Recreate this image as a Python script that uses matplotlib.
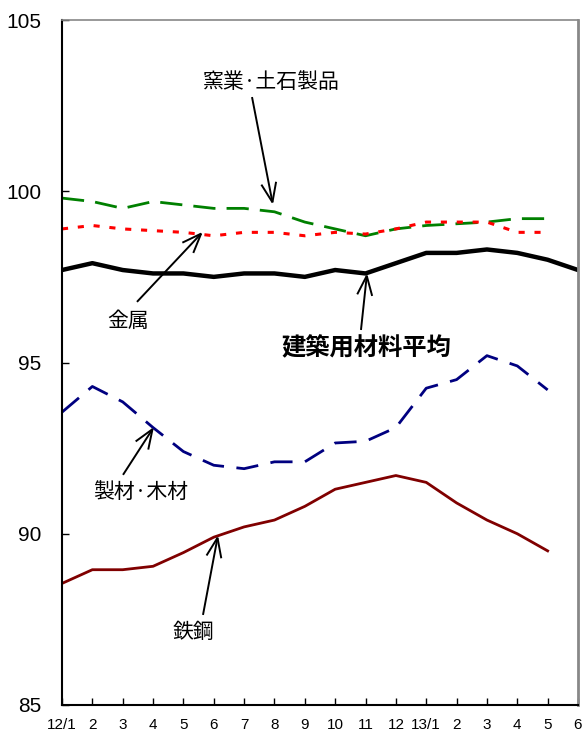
import matplotlib
matplotlib.use("Agg")
import matplotlib.pyplot as plt

# Month labels (2012/1 .. 2013/6)
months = ["12/1", "2", "3", "4", "5", "6", "7", "8", "9", "10", "11", "12",
          "13/1", "2", "3", "4", "5", "6"]

# Price index series
average = [97.7, 97.9, 97.7, 97.6, 97.6, 97.5, 97.6, 97.6, 97.5, 97.7, 97.6, 97.9,
           98.2, 98.2, 98.3, 98.2, 98.0, 97.7]
ceramics = [99.8, 99.7, 99.5, 99.7, 99.6, 99.5, 99.5, 99.4, 99.1, 98.9, 98.7, 98.9,
            99.0, 99.05, 99.1, 99.2, 99.2]
metals = [98.9, 99.0, 98.9, 98.85, 98.8, 98.7, 98.8, 98.8, 98.7, 98.8, 98.75, 98.9,
          99.1, 99.1, 99.1, 98.8, 98.8]
lumber = [93.55, 94.3, 93.85, 93.1, 92.4, 92.0, 91.9, 92.1, 92.1, 92.65, 92.7, 93.1,
          94.25, 94.5, 95.2, 94.9, 94.2]
steel = [88.55, 88.95, 88.95, 89.05, 89.45, 89.9, 90.2, 90.4, 90.8, 91.3, 91.5, 91.7,
         91.5, 90.9, 90.4, 90.0, 89.5]

yticks = [85, 90, 95, 100, 105]

jp = ["Noto Sans CJK JP", "DejaVu Sans"]
num_font = "Liberation Sans"

fig = plt.figure(figsize=(5.83, 7.33), dpi=100)
ax = fig.add_axes([62 / 583, 28 / 733, 516 / 583, 685 / 733])

x = list(range(len(months)))

ax.plot(x[:len(ceramics)], ceramics, color="#008000", lw=2.0, dashes=(8, 4))
ax.plot(x[:len(metals)], metals, color="#FF0000", lw=2.2, dashes=(2.0, 3.2))
ax.plot(x[:len(lumber)], lumber, color="#000080", lw=2.0, dashes=(8, 4.5))
ax.plot(x[:len(steel)], steel, color="#800000", lw=2.0)
ax.plot(x, average, color="black", lw=3.2, solid_joinstyle="round")

ax.set_xlim(0, len(months) - 1)
ax.set_ylim(85, 105)
ax.set_xticks(x)
ax.set_xticklabels(months, fontsize=11, fontfamily=num_font)
ax.set_yticks(yticks)
ax.set_yticklabels([str(v) for v in yticks], fontsize=15, fontfamily=num_font)
ax.tick_params(axis="x", direction="in", length=5, width=1, pad=9.5)
ax.tick_params(axis="y", direction="in", length=5, width=1, pad=15)

for side in ("left", "bottom"):
    ax.spines[side].set_color("black")
    ax.spines[side].set_linewidth(1.5)
ax.spines["top"].set_color("#888888")
ax.spines["top"].set_linewidth(1.2)
ax.spines["right"].set_color("#888888")
ax.spines["right"].set_linewidth(2.0)

arrow = dict(arrowstyle="->,head_length=0.7,head_width=0.27", color="black",
             lw=1.4, mutation_scale=20, shrinkA=0, shrinkB=0,
             joinstyle="miter", capstyle="butt")

# (label, text position, arrow start, arrow tip, size, weight)
labels = [
    ("窯業·土石製品", (6.886, 103.19), (6.26, 102.75), (6.95, 99.60), 15, "normal"),
    ("金属", (2.174, 96.21), (2.47, 96.77), (4.645, 98.82), 15, "normal"),
    ("建築用材料平均", (10.016, 95.42), (9.85, 95.95), (10.05, 97.61), 17.5, "bold"),
    ("製材·木材", (2.603, 91.22), (2.01, 91.72), (3.03, 93.12), 15, "normal"),
    ("鉄鋼", (4.316, 87.13), (4.645, 87.63), (5.14, 89.96), 15, "normal"),
]

for text, pos, start, tip, size, weight in labels:
    ax.text(pos[0], pos[1], text, fontsize=size, fontweight=weight,
            fontfamily=jp, ha="center", va="center")
    ax.annotate("", xy=tip, xytext=start, arrowprops=arrow)

fig.savefig("out.png", dpi=100)
